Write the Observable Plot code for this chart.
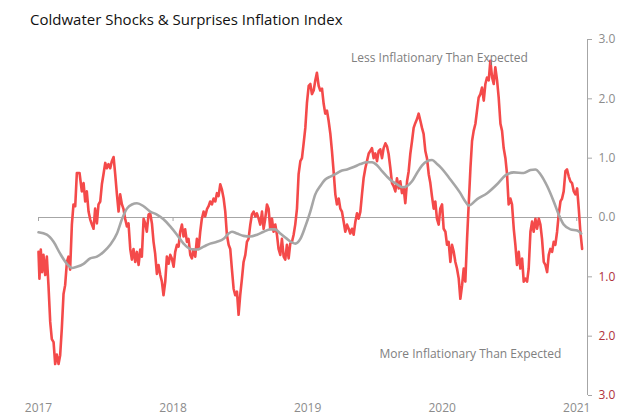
<!DOCTYPE html>
<html><head><meta charset="utf-8">
<script src="https://cdn.jsdelivr.net/npm/d3@7"></script>
<script src="https://cdn.jsdelivr.net/npm/@observablehq/plot@0.6"></script>
<style>
body{margin:0;background:#fff;}
#wrap{position:relative;width:640px;height:418px;overflow:hidden;}
#title{position:absolute;left:30px;top:9px;font-family:"Open Sans",sans-serif;font-size:15px;color:#111;white-space:nowrap;z-index:2;}
#chart{position:absolute;left:0;top:0;}
</style></head><body>
<div id="wrap"><div id="title">Coldwater Shocks &amp; Surprises Inflation Index</div><div id="chart"></div></div>
<script>
// Shocks & Surprises index (red), [decimal year, value]
const shocks = [[2017.000,-0.58],[2017.007,-1.03],[2017.017,-0.54],[2017.027,-0.92],[2017.037,-0.63],[2017.050,-0.97],[2017.062,-0.66],[2017.074,-1.14],[2017.087,-1.76],[2017.099,-2.05],[2017.112,-2.10],[2017.124,-2.47],[2017.136,-2.31],[2017.149,-2.47],[2017.161,-2.32],[2017.173,-1.88],[2017.186,-1.29],[2017.198,-1.14],[2017.211,-0.75],[2017.223,-0.66],[2017.235,-0.88],[2017.248,-0.12],[2017.260,0.22],[2017.273,0.19],[2017.285,0.75],[2017.305,0.75],[2017.322,0.44],[2017.335,0.58],[2017.347,0.27],[2017.359,0.44],[2017.372,0.10],[2017.384,-0.03],[2017.397,-0.12],[2017.409,-0.19],[2017.421,0.15],[2017.434,-0.10],[2017.446,0.22],[2017.459,0.27],[2017.471,0.56],[2017.483,0.73],[2017.496,0.92],[2017.508,0.83],[2017.520,0.90],[2017.533,0.83],[2017.545,0.95],[2017.558,1.02],[2017.570,0.73],[2017.582,0.41],[2017.595,0.10],[2017.607,0.39],[2017.620,0.22],[2017.632,0.14],[2017.644,-0.02],[2017.657,-0.15],[2017.669,-0.10],[2017.682,-0.53],[2017.694,-0.71],[2017.706,-0.53],[2017.719,-0.75],[2017.731,-0.58],[2017.744,-0.80],[2017.756,-0.54],[2017.768,-0.66],[2017.781,-0.02],[2017.793,-0.10],[2017.805,-0.24],[2017.818,0.05],[2017.830,0.07],[2017.843,-0.10],[2017.855,-0.41],[2017.867,-0.61],[2017.880,-0.95],[2017.892,-0.80],[2017.905,-0.97],[2017.917,-1.08],[2017.929,-1.31],[2017.942,-1.08],[2017.954,-0.66],[2017.967,-0.78],[2017.979,-0.63],[2017.991,-0.69],[2018.004,-0.83],[2018.016,-0.58],[2018.029,-0.46],[2018.041,-0.49],[2018.053,-0.24],[2018.066,-0.12],[2018.078,-0.32],[2018.090,-0.20],[2018.103,-0.41],[2018.115,-0.36],[2018.128,-0.63],[2018.140,-0.69],[2018.152,-0.54],[2018.165,-0.66],[2018.177,-0.36],[2018.190,-0.53],[2018.202,-0.24],[2018.214,-0.02],[2018.227,0.10],[2018.239,0.02],[2018.252,0.14],[2018.264,0.19],[2018.276,0.27],[2018.289,0.22],[2018.301,0.32],[2018.314,0.27],[2018.326,0.41],[2018.338,0.36],[2018.351,0.56],[2018.363,0.47],[2018.376,0.32],[2018.388,0.10],[2018.400,-0.29],[2018.413,-0.46],[2018.425,-0.53],[2018.437,-0.86],[2018.450,-1.20],[2018.462,-1.31],[2018.475,-1.25],[2018.487,-1.64],[2018.499,-1.31],[2018.512,-1.03],[2018.524,-0.75],[2018.537,-0.63],[2018.549,-0.41],[2018.561,-0.36],[2018.574,-0.12],[2018.586,0.05],[2018.599,0.10],[2018.611,0.02],[2018.623,0.07],[2018.636,-0.02],[2018.648,-0.12],[2018.661,0.10],[2018.673,-0.19],[2018.685,-0.02],[2018.698,0.22],[2018.710,0.15],[2018.722,-0.19],[2018.735,-0.02],[2018.747,-0.24],[2018.760,-0.12],[2018.772,-0.29],[2018.784,-0.53],[2018.797,-0.63],[2018.809,-0.36],[2018.822,-0.66],[2018.834,-0.71],[2018.846,-0.46],[2018.859,-0.69],[2018.871,-0.44],[2018.884,-0.41],[2018.896,-0.29],[2018.908,-0.12],[2018.921,0.15],[2018.933,0.73],[2018.946,0.95],[2018.958,1.00],[2018.970,1.24],[2018.983,1.51],[2018.995,1.93],[2019.008,2.22],[2019.020,2.25],[2019.032,2.08],[2019.045,2.14],[2019.057,2.31],[2019.069,2.44],[2019.082,2.22],[2019.094,2.14],[2019.107,2.17],[2019.119,1.92],[2019.131,1.75],[2019.144,1.80],[2019.156,1.63],[2019.169,1.41],[2019.181,1.12],[2019.193,0.78],[2019.206,0.39],[2019.218,0.22],[2019.231,0.32],[2019.243,0.15],[2019.255,0.10],[2019.268,-0.07],[2019.280,-0.24],[2019.293,-0.12],[2019.305,-0.19],[2019.317,-0.27],[2019.330,-0.19],[2019.342,-0.29],[2019.355,-0.07],[2019.367,0.07],[2019.379,-0.02],[2019.392,0.10],[2019.404,0.39],[2019.416,0.66],[2019.429,0.83],[2019.441,0.95],[2019.454,1.08],[2019.466,1.12],[2019.478,1.17],[2019.491,1.00],[2019.503,1.08],[2019.516,0.95],[2019.528,1.12],[2019.540,1.15],[2019.553,1.00],[2019.565,1.17],[2019.578,1.25],[2019.590,1.20],[2019.602,1.07],[2019.615,0.83],[2019.627,0.58],[2019.639,0.53],[2019.652,0.44],[2019.664,0.66],[2019.677,0.49],[2019.689,0.61],[2019.701,0.41],[2019.714,0.49],[2019.726,0.24],[2019.739,0.61],[2019.751,0.78],[2019.763,1.07],[2019.776,1.29],[2019.788,1.51],[2019.800,1.59],[2019.813,1.66],[2019.825,1.75],[2019.838,1.63],[2019.850,1.51],[2019.862,1.41],[2019.875,1.12],[2019.887,1.00],[2019.900,0.73],[2019.912,0.58],[2019.924,0.36],[2019.937,0.15],[2019.949,0.27],[2019.961,-0.02],[2019.974,-0.12],[2019.986,0.15],[2019.999,0.22],[2020.011,-0.19],[2020.024,-0.24],[2020.036,-0.46],[2020.048,-0.41],[2020.061,-0.75],[2020.073,-0.46],[2020.086,-0.58],[2020.098,-0.75],[2020.110,-0.86],[2020.123,-1.03],[2020.135,-1.37],[2020.148,-1.14],[2020.160,-0.86],[2020.172,-1.08],[2020.185,-0.36],[2020.197,0.22],[2020.210,0.83],[2020.222,1.29],[2020.234,1.46],[2020.247,1.58],[2020.259,1.80],[2020.271,2.02],[2020.284,2.08],[2020.296,2.19],[2020.309,1.97],[2020.321,2.25],[2020.333,2.36],[2020.346,2.31],[2020.358,2.64],[2020.371,2.36],[2020.383,2.25],[2020.395,2.53],[2020.408,2.31],[2020.420,2.02],[2020.433,1.58],[2020.445,1.46],[2020.457,1.17],[2020.470,1.00],[2020.482,0.73],[2020.494,0.22],[2020.507,0.32],[2020.519,0.22],[2020.532,-0.19],[2020.544,-0.46],[2020.556,-0.80],[2020.569,-0.58],[2020.581,-0.86],[2020.594,-0.69],[2020.606,-1.08],[2020.618,-1.03],[2020.631,-1.08],[2020.643,-0.86],[2020.656,-0.24],[2020.668,-0.07],[2020.680,-0.24],[2020.693,-0.02],[2020.705,-0.19],[2020.718,-0.02],[2020.730,-0.12],[2020.742,-0.36],[2020.755,-0.75],[2020.767,-0.80],[2020.780,-0.92],[2020.792,-0.63],[2020.804,-0.53],[2020.817,-0.58],[2020.829,-0.41],[2020.841,-0.46],[2020.854,-0.24],[2020.866,0.05],[2020.879,0.27],[2020.891,0.32],[2020.903,0.44],[2020.916,0.78],[2020.928,0.81],[2020.941,0.69],[2020.953,0.61],[2020.965,0.58],[2020.978,0.44],[2020.990,0.39],[2021.003,0.49],[2021.015,0.15],[2021.027,-0.24],[2021.040,-0.53]];

// Smoothed trend (grey), [decimal year, value]
const trend = [[2017.000,-0.25],[2017.062,-0.29],[2017.112,-0.41],[2017.161,-0.61],[2017.211,-0.78],[2017.248,-0.85],[2017.285,-0.83],[2017.335,-0.78],[2017.384,-0.69],[2017.434,-0.66],[2017.483,-0.58],[2017.533,-0.46],[2017.583,-0.27],[2017.620,-0.03],[2017.657,0.15],[2017.694,0.22],[2017.732,0.24],[2017.781,0.19],[2017.830,0.10],[2017.880,0.05],[2017.929,-0.03],[2017.979,-0.15],[2018.029,-0.29],[2018.078,-0.44],[2018.128,-0.53],[2018.177,-0.54],[2018.227,-0.49],[2018.276,-0.44],[2018.326,-0.41],[2018.376,-0.36],[2018.413,-0.27],[2018.438,-0.24],[2018.475,-0.27],[2018.524,-0.31],[2018.574,-0.32],[2018.624,-0.29],[2018.673,-0.24],[2018.723,-0.20],[2018.760,-0.20],[2018.797,-0.27],[2018.847,-0.36],[2018.884,-0.42],[2018.909,-0.44],[2018.946,-0.36],[2018.983,-0.15],[2019.020,0.10],[2019.057,0.39],[2019.094,0.53],[2019.131,0.64],[2019.169,0.69],[2019.206,0.73],[2019.243,0.78],[2019.293,0.81],[2019.342,0.85],[2019.392,0.90],[2019.442,0.93],[2019.479,0.93],[2019.516,0.88],[2019.553,0.78],[2019.590,0.69],[2019.628,0.61],[2019.665,0.56],[2019.702,0.51],[2019.739,0.53],[2019.776,0.61],[2019.813,0.75],[2019.851,0.88],[2019.888,0.95],[2019.925,0.97],[2019.962,0.90],[2019.987,0.85],[2020.061,0.64],[2020.135,0.41],[2020.172,0.27],[2020.197,0.20],[2020.260,0.31],[2020.334,0.41],[2020.408,0.56],[2020.470,0.71],[2020.532,0.76],[2020.606,0.75],[2020.656,0.80],[2020.693,0.81],[2020.730,0.73],[2020.780,0.53],[2020.829,0.27],[2020.866,0.05],[2020.903,-0.12],[2020.953,-0.20],[2021.003,-0.22],[2021.033,-0.27]];

const xTicks = [2017, 2018, 2019, 2020, 2021];
const yTicksUpper = [0, 1, 2, 3];
const yTicksLower = [-1, -2, -3];
const notes = [
  {x: 2019.98, y: 2.68, text: "Less Inflationary Than Expected"},
  {x: 2020.21, y: -2.31, text: "More Inflationary Than Expected"}
];

const grey = "#a6a6a6";
const chart = Plot.plot({
  width: 640, height: 418,
  marginLeft: 38, marginRight: 53, marginTop: 39, marginBottom: 23,
  style: {fontFamily: "'Open Sans', sans-serif", background: "transparent", overflow: "visible"},
  x: {domain: [2017, 2021.08]},
  y: {domain: [-3, 3]},
  marks: [
    Plot.ruleY([0], {stroke: grey, strokeWidth: 1}),
    Plot.ruleX(xTicks, {x: d => d, y1: 0, y2: 0, insetBottom: -4, stroke: grey}),
    Plot.ruleX([2021.08], {y1: -3, y2: 3, stroke: grey}),
    Plot.axisY(yTicksUpper, {anchor: "right", tickSize: 4, tickPadding: 7, stroke: grey, fill: "#8c8c8c", fontSize: 12, tickFormat: d => Math.abs(d).toFixed(1), label: null}),
    Plot.axisY(yTicksLower, {anchor: "right", tickSize: 4, tickPadding: 7, stroke: grey, fill: "#b0323b", fontSize: 12, tickFormat: d => Math.abs(d).toFixed(1), label: null}),
    Plot.axisX(xTicks, {anchor: "bottom", tickSize: 0, tickPadding: 8, fill: "#8c8c8c", fontSize: 12, tickFormat: d => String(d), label: null}),
    Plot.line(shocks, {x: d => d[0], y: d => d[1], stroke: "#f44a4a", strokeWidth: 2.6, strokeLinejoin: "round"}),
    Plot.line(trend, {x: d => d[0], y: d => d[1], stroke: grey, strokeWidth: 2.6, curve: "monotone-x"}),
    Plot.text(notes, {x: "x", y: "y", text: "text", fill: "#808080", fontSize: 12})
  ]
});
document.getElementById("chart").appendChild(chart);
</script>
</body></html>
